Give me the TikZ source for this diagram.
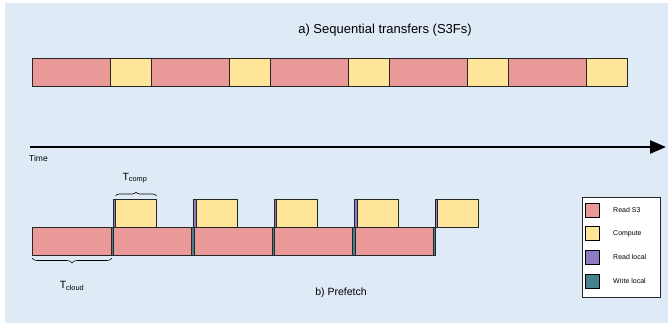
\documentclass[tikz,border=0pt]{standalone}
\usepackage{fontspec}
\setmainfont{Liberation Sans}
\usetikzlibrary{arrows.meta,decorations.pathreplacing}
\definecolor{bgblue}{HTML}{DEEAF6}
\definecolor{sthree}{HTML}{EA9999}
\definecolor{compcol}{HTML}{FFE599}
\definecolor{rloccol}{HTML}{8E7CC3}
\definecolor{wloccol}{HTML}{45818E}
\tikzset{blk/.style={
  draw=black!85,
  line width=.7,
  inner sep=0pt,
  outer sep=0pt,
  anchor=west,
  minimum height=28}}
\tikzset{rsblk/.style={
  blk,
  fill=sthree}}
\tikzset{cpblk/.style={
  blk,
  fill=compcol}}
\tikzset{rlblk/.style={
  blk,
  fill=rloccol,
  line width=.3}}
\tikzset{wlblk/.style={
  blk,
  fill=wloccol,
  line width=.3}}
\tikzset{swatch/.style={
  draw=black,
  line width=.6,
  inner sep=0pt,
  minimum size=14}}

\begin{document}
\begin{tikzpicture}[x=1pt,y=-1pt,
  lbl/.style={
    font=\fontsize{7}{8}\selectfont,
    anchor=west,
    inner sep=0pt},
  tlbl/.style={
    font=\fontsize{10.5}{12}\selectfont}
]
  \useasboundingbox (0,0) rectangle (668,328);
  \fill[bgblue] (5,3) rectangle (668,323);

  %%%% a) Sequential transfers %%%%
  \node[font=\fontsize{13}{15}\selectfont] (titlea) at (385,30) {a) Sequential transfers (S3Fs)};
  \foreach \i in {0,...,4}{
    %% Read from S3, then compute
    \node[rsblk,minimum width=78] (a-rs\i) at (32+119*\i,72) {};
    \node[cpblk,minimum width=41] (a-cp\i) at (110+119*\i,72) {};
  }

  %%%% Time axis %%%%
  \coordinate (tstart) at (30,147);
  \coordinate (tend) at (666,147);
  \draw[line width=2.6,-{Triangle[length=16,width=13]}] (tstart) -- (tend);
  \node[lbl,font=\fontsize{8.5}{10}\selectfont] (time) at (29,158) {Time};

  %%%% b) Prefetch %%%%
  \node[rsblk,minimum width=79] (b-rs0) at (32,241) {};
  \foreach \i in {0,...,4}{
    \pgfmathsetmacro\x{111+80.5*\i}
    %% Write local, read local, compute
    \node[wlblk,minimum width=2.5] (b-wl\i) at (\x,241) {};
    \node[rlblk,minimum width=2.5] (b-rl\i) at (\x+2,213) {};
    \node[cpblk,minimum width=41] (b-cp\i) at (\x+4.5,213) {};
  }
  \foreach \i in {1,...,4}{
    \pgfmathsetmacro\x{113.5+80.5*(\i-1)}
    \node[rsblk,minimum width=78] (b-rs\i) at (\x,241) {};
  }

  %% Braces
  \draw[decorate,decoration={brace,amplitude=4},line width=.6]
    (b-cp0.north west) ++(0,-3) -- ++(41,0) coordinate (bc);
  \node[tlbl] (tcomp) at (135,178) {T\textsubscript{comp}};
  \draw[decorate,decoration={brace,amplitude=5,mirror},line width=.6]
    (b-rs0.south west) ++(0,3) -- ++(80,0);
  \node[tlbl] (tcloud) at (72,286) {T\textsubscript{cloud}};
  \node[font=\fontsize{10.5}{12}\selectfont] (titleb) at (341,293) {b) Prefetch};

  %%%% Legend %%%%
  \node[draw=black!85,fill=white,line width=.7,minimum width=78,minimum height=100,
    inner sep=0pt,anchor=north west] (legend) at (582,197) {};
  \node[swatch,fill=sthree] (lg-rs) at (592,210) {};
  \node[swatch,fill=compcol] (lg-cp) at (592,233.5) {};
  \node[swatch,fill=rloccol] (lg-rl) at (592,257) {};
  \node[swatch,fill=wloccol] (lg-wl) at (592,281) {};
  \node[lbl] at (613,210) {Read S3};
  \node[lbl] at (613,233.5) {Compute};
  \node[lbl] at (613,257) {Read local};
  \node[lbl] at (613,281) {Write local};

\end{tikzpicture}
\end{document}
